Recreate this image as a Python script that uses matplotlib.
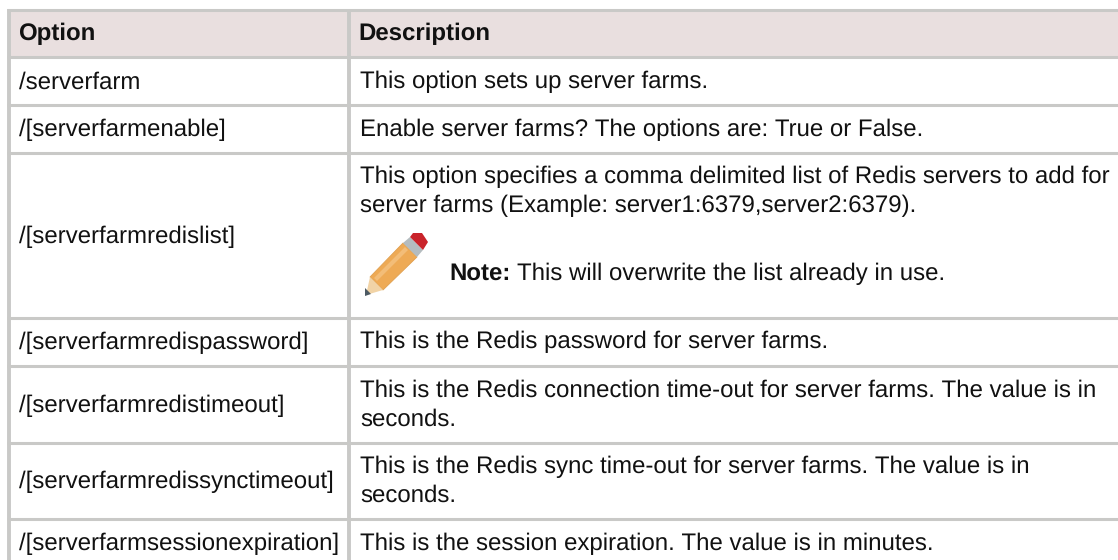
import matplotlib
matplotlib.use('Agg')
import matplotlib.pyplot as plt
from matplotlib.patches import Polygon, Rectangle

plt.rcParams['font.family'] = ['Liberation Sans', 'DejaVu Sans']
plt.rcParams['text.hinting'] = 'no_hinting'
plt.rcParams['text.hinting_factor'] = 1

headers = ['Option', 'Description']
options = ['/serverfarm', '/[serverfarmenable]', '/[serverfarmredislist]',
           '/[serverfarmredispassword]', '/[serverfarmredistimeout]',
           '/[serverfarmredissynctimeout]', '/[serverfarmsessionexpiration]']
descriptions = [
    ['This option sets up server farms.'],
    ['Enable server farms? The options are: True or False.'],
    ['This option specifies a comma delimited list of Redis servers to add for',
     'server farms (Example: server1:6379,server2:6379).'],
    ['This is the Redis password for server farms.'],
    ['This is the Redis connection time-out for server farms. The value is in',
     'seconds.'],
    ['This is the Redis sync time-out for server farms. The value is in',
     'seconds.'],
    ['This is the session expiration. The value is in minutes.'],
]
note_label = 'Note:'
note_text = 'This will overwrite the list already in use.'

# layout in pixels, from the top of the image
row_lines = [10, 57, 105, 153, 318, 366, 443, 519, 560]
desc_base = [88, 136, 183, 348, 397, 473, 550]
left_x = 9
col_x = 349
line_col = '#c9c9c7'
head_col = '#e9dfdf'
txt_col = '#111111'
fs = 17.35
line_h = 29

fig = plt.figure(figsize=(11.18, 5.6), dpi=100)
ax = fig.add_axes([0, 0, 1, 1])
ax.set_xlim(0, 1118)
ax.set_ylim(560, 0)
ax.axis('off')

ax.add_patch(Rectangle((left_x, row_lines[0]), 1118 - left_x, row_lines[1] - row_lines[0],
                       fc=head_col, ec='none', zorder=1))
for y in row_lines[:-1]:
    ax.plot([left_x - 2, 1118], [y, y], color=line_col, lw=2.2, zorder=2, solid_capstyle='butt')
for x in [left_x, col_x]:
    ax.plot([x, x], [row_lines[0] - 1, 560], color=line_col, lw=2.8, zorder=2, solid_capstyle='butt')

ax.text(18.5, 40, headers[0], fontsize=fs, fontweight='bold', color=txt_col, va='baseline')
ax.text(358.5, 40, headers[1], fontsize=fs, fontweight='bold', color=txt_col, va='baseline')

for i, (opt, desc) in enumerate(zip(options, descriptions)):
    mid = (row_lines[i + 1] + row_lines[i + 2]) / 2
    if i == len(options) - 1:
        mid = desc_base[i] - 7
    ax.text(19, mid + 7.5, opt, fontsize=fs, color=txt_col, va='baseline')
    for j, s in enumerate(desc):
        ax.text(360, desc_base[i] + j * line_h, s, fontsize=fs, color=txt_col, va='baseline')

# note line with pencil icon
ax.text(449, 280, note_label, fontsize=fs, fontweight='bold', color=txt_col, va='baseline')
ax.text(517, 280, note_text, fontsize=fs, color=txt_col, va='baseline')
ax.add_patch(Polygon([(370, 277), (403, 243), (417, 257), (383, 290)], fc='#eeaa55', ec='#e0a050', lw=0.6, zorder=3))
ax.add_patch(Polygon([(374, 278), (405, 247), (408, 250), (377, 281)], fc='#f3bd78', ec='none', zorder=3))
ax.add_patch(Polygon([(370, 277), (383, 290), (366, 295)], fc='#f1d3a6', ec='none', zorder=3))
ax.add_patch(Polygon([(365, 288), (371, 294), (365, 296)], fc='#4d5a63', ec='none', zorder=4))
ax.add_patch(Polygon([(403, 243), (410, 237), (423, 250), (417, 257)], fc='#b4bcbf', ec='none', zorder=3))
ax.add_patch(Polygon([(410, 237), (413, 233), (422, 233), (428, 242), (423, 250)], fc='#c9232a', ec='none', zorder=4))

fig.savefig('out.png', dpi=100)
